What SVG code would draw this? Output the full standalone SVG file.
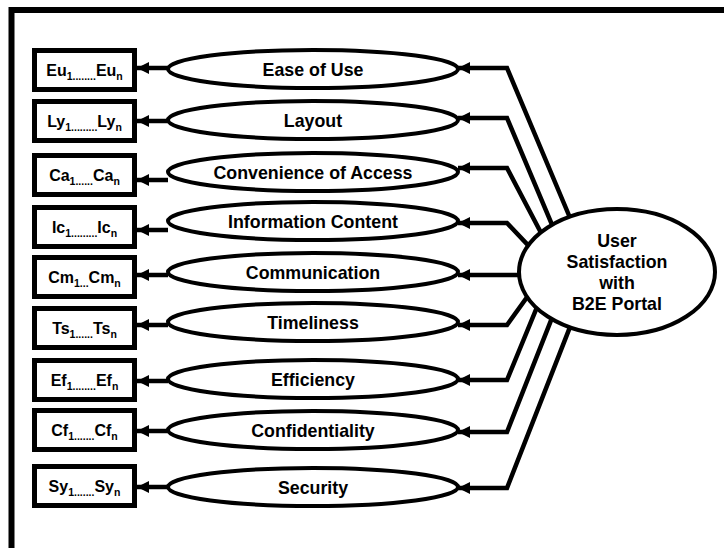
<svg xmlns="http://www.w3.org/2000/svg" width="724" height="548" viewBox="0 0 724 548">
  <style>
    .frame { fill: none; stroke: #000; stroke-width: 6; }
    .box rect { fill: #fff; stroke: #000; stroke-width: 5; }
    .box text { font-family: "Liberation Sans", Arial, sans-serif; font-weight: bold; font-size: 16px; fill: #000; text-anchor: middle; }
    .box .sub { font-size: 10.5px; }
    .construct ellipse { fill: #fff; stroke: #000; stroke-width: 4; }
    .construct text { font-family: "Liberation Sans", Arial, sans-serif; font-weight: bold; font-size: 17.8px; fill: #000; text-anchor: middle; }
    .link { fill: none; stroke: #000; stroke-width: 4.5; stroke-linejoin: miter; }
  </style>
  <defs>
    <marker id="arrow" markerUnits="userSpaceOnUse" markerWidth="14" markerHeight="12" refX="12" refY="6" orient="auto">
      <path d="M0,0 L12,6 L0,12 Z" fill="#000"/>
    </marker>
  </defs>

  <!-- outer frame (only top and left edges fall inside the canvas) -->
  <path class="frame" d="M11.5,560 V10 H730"/>

  <!-- connectors -->
  <g id="connectors">
    <!-- construct -> indicator boxes -->
    <path class="link" marker-end="url(#arrow)" d="M168,68 H137"/>
    <path class="link" marker-end="url(#arrow)" d="M168,121 H137"/>
    <path class="link" marker-end="url(#arrow)" d="M168,180 H137"/>
    <path class="link" marker-end="url(#arrow)" d="M168,230 H137"/>
    <path class="link" marker-end="url(#arrow)" d="M168,275 H137"/>
    <path class="link" marker-end="url(#arrow)" d="M168,325 H137"/>
    <path class="link" marker-end="url(#arrow)" d="M168,381 H137"/>
    <path class="link" marker-end="url(#arrow)" d="M168,431 H137"/>
    <path class="link" marker-end="url(#arrow)" d="M168,487 H137"/>
    <!-- overall satisfaction -> constructs -->
    <path class="link" marker-end="url(#arrow)" d="M574.1,227.5 L507,68 H458"/>
    <path class="link" marker-end="url(#arrow)" d="M556.5,235.3 L507,118 H458"/>
    <path class="link" marker-end="url(#arrow)" d="M547.3,244.7 L507,168 H458"/>
    <path class="link" marker-end="url(#arrow)" d="M535.8,253.4 L507,223 H458"/>
    <path class="link" marker-end="url(#arrow)" d="M535,275 H458"/>
    <path class="link" marker-end="url(#arrow)" d="M535.8,285 L507,325 H458"/>
    <path class="link" marker-end="url(#arrow)" d="M543.4,291.6 L507,380 H458"/>
    <path class="link" marker-end="url(#arrow)" d="M558.6,301.2 L507,432 H458"/>
    <path class="link" marker-end="url(#arrow)" d="M577.2,308.6 L507,488 H458"/>
  </g>

  <!-- indicator boxes -->
  <g id="box-eu" class="box"><rect x="34.5" y="50.5" width="100" height="39"/>
    <text x="84.5" y="76">Eu<tspan class="sub" dy="3.5">1........</tspan><tspan dy="-3.5">Eu</tspan><tspan class="sub" dy="3.5">n</tspan></text></g>
  <g id="box-ly" class="box"><rect x="34.5" y="101.5" width="100" height="39"/>
    <text x="84.5" y="127">Ly<tspan class="sub" dy="3.5">1.........</tspan><tspan dy="-3.5">Ly</tspan><tspan class="sub" dy="3.5">n</tspan></text></g>
  <g id="box-ca" class="box"><rect x="34.5" y="155.5" width="100" height="39"/>
    <text x="84.5" y="181">Ca<tspan class="sub" dy="3.5">1......</tspan><tspan dy="-3.5">Ca</tspan><tspan class="sub" dy="3.5">n</tspan></text></g>
  <g id="box-ic" class="box"><rect x="34.5" y="207.5" width="100" height="39"/>
    <text x="84.5" y="233">Ic<tspan class="sub" dy="3.5">1.........</tspan><tspan dy="-3.5">Ic</tspan><tspan class="sub" dy="3.5">n</tspan></text></g>
  <g id="box-cm" class="box"><rect x="34.5" y="257.5" width="100" height="39"/>
    <text x="84.5" y="283">Cm<tspan class="sub" dy="3.5">1...</tspan><tspan dy="-3.5">Cm</tspan><tspan class="sub" dy="3.5">n</tspan></text></g>
  <g id="box-ts" class="box"><rect x="34.5" y="308.5" width="100" height="39"/>
    <text x="84.5" y="334">Ts<tspan class="sub" dy="3.5">1......</tspan><tspan dy="-3.5">Ts</tspan><tspan class="sub" dy="3.5">n</tspan></text></g>
  <g id="box-ef" class="box"><rect x="34.5" y="360.5" width="100" height="39"/>
    <text x="84.5" y="386">Ef<tspan class="sub" dy="3.5">1........</tspan><tspan dy="-3.5">Ef</tspan><tspan class="sub" dy="3.5">n</tspan></text></g>
  <g id="box-cf" class="box"><rect x="34.5" y="410.5" width="100" height="39"/>
    <text x="84.5" y="436">Cf<tspan class="sub" dy="3.5">1.......</tspan><tspan dy="-3.5">Cf</tspan><tspan class="sub" dy="3.5">n</tspan></text></g>
  <g id="box-sy" class="box"><rect x="34.5" y="466.5" width="100" height="39"/>
    <text x="84.5" y="492">Sy<tspan class="sub" dy="3.5">1.......</tspan><tspan dy="-3.5">Sy</tspan><tspan class="sub" dy="3.5">n</tspan></text></g>

  <!-- satisfaction dimensions -->
  <g id="ease-of-use" class="construct"><ellipse cx="313" cy="69" rx="145" ry="19"/><text x="313" y="75.5">Ease of Use</text></g>
  <g id="layout" class="construct"><ellipse cx="313" cy="120" rx="145" ry="19"/><text x="313" y="126.5">Layout</text></g>
  <g id="convenience" class="construct"><ellipse cx="313" cy="172" rx="145" ry="19"/><text x="313" y="178.5">Convenience of Access</text></g>
  <g id="information" class="construct"><ellipse cx="313" cy="221" rx="145" ry="19"/><text x="313" y="227.5">Information Content</text></g>
  <g id="communication" class="construct"><ellipse cx="313" cy="272" rx="145" ry="19"/><text x="313" y="278.5">Communication</text></g>
  <g id="timeliness" class="construct"><ellipse cx="313" cy="322" rx="145" ry="19"/><text x="313" y="328.5">Timeliness</text></g>
  <g id="efficiency" class="construct"><ellipse cx="313" cy="379" rx="145" ry="19"/><text x="313" y="385.5">Efficiency</text></g>
  <g id="confidentiality" class="construct"><ellipse cx="313" cy="430" rx="145" ry="19"/><text x="313" y="436.5">Confidentiality</text></g>
  <g id="security" class="construct"><ellipse cx="313" cy="487" rx="145" ry="19"/><text x="313" y="493.5">Security</text></g>

  <!-- overall construct -->
  <g id="user-satisfaction" class="construct">
    <ellipse cx="617" cy="272" rx="98" ry="63"/>
    <text x="617" y="247">User</text>
    <text x="617" y="268">Satisfaction</text>
    <text x="617" y="289">with</text>
    <text x="617" y="310">B2E Portal</text>
  </g>
</svg>
